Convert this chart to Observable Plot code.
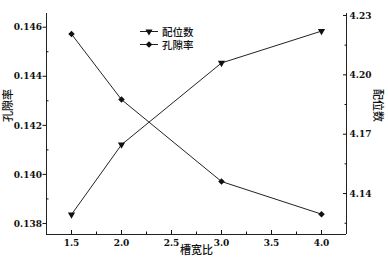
<!DOCTYPE html>
<html><head><meta charset="utf-8">
<script src="https://cdn.jsdelivr.net/npm/d3@7"></script>
<script src="https://cdn.jsdelivr.net/npm/@observablehq/plot@0.6"></script>
<style>
body{margin:0;background:#fff;}
#chart{position:relative;width:388px;height:268px;}
#legend{position:absolute;left:140px;top:24.5px;font-family:"Noto Sans CJK SC";font-size:10.5px;font-weight:500;color:#111;}
#legend .row{display:flex;align-items:center;height:13px;overflow:visible;}
#legend .row span{line-height:11px;height:11px;display:block;}
#legend svg{margin-right:4px;display:block;}
</style></head><body><div id="chart"><div id="legend"></div></div>
<script>
// data
const ratio = [1.5, 2.0, 3.0, 4.0];
const porosity = [0.14572, 0.14305, 0.13971, 0.13838];
const coordination = [4.1294, 4.1647, 4.2060, 4.2221];
// ticks
const xTicks = [1.5, 2.0, 2.5, 3.0, 3.5, 4.0];
const xMinor = [1.75, 2.25, 2.75, 3.25, 3.75];
const leftTicks = [0.138, 0.140, 0.142, 0.144, 0.146];
const leftMinor = [0.139, 0.141, 0.143, 0.145];
const rightTicks = [4.14, 4.17, 4.20, 4.23];
const rightMinor = [4.125, 4.155, 4.185, 4.215];
const xDomain = [1.25, 4.25];
const leftDomain = [0.13755, 0.14656];
const rightDomain = [4.1193, 4.231];
const xLabel = "槽宽比", leftLabel = "孔隙率", rightLabel = "配位数";
const seriesNames = ["配位数", "孔隙率"];

const cjk = "Noto Sans CJK SC";
const num = {fontFamily: "'DejaVu Serif Condensed', 'DejaVu Serif', serif", fontSize: 10, fontWeight: "bold"};
const toLeft = d3.scaleLinear().domain(rightDomain).range(leftDomain);
const data = ratio.map((r, i) => ({r, p: porosity[i], c: toLeft(coordination[i])}));
const blank = () => "";

const chart = Plot.plot({
  width: 388, height: 268,
  marginLeft: 46, marginRight: 42, marginTop: 13, marginBottom: 34,
  x: {domain: xDomain},
  y: {domain: leftDomain},
  style: {color: "#111", background: "#fff"},
  marks: [
    Plot.ruleX([xDomain[0]], {stroke: "#222"}),
    Plot.ruleX([xDomain[1]], {stroke: "#222"}),
    Plot.ruleY([leftDomain[0]], {stroke: "#222"}),
    // bottom axis
    Plot.axisX(xTicks, {anchor: "bottom", tickSize: 0, tickPadding: 4, tickFormat: d3.format(".1f"), label: null, ...num}),
    Plot.axisX(xTicks, {anchor: "bottom", tickSize: 4, dy: -4, tickFormat: blank, label: null}),
    Plot.axisX(xMinor, {anchor: "bottom", tickSize: 2.5, dy: -2.5, tickFormat: blank, label: null}),
    // left axis
    Plot.axisY(leftTicks, {anchor: "left", tickSize: 3.5, tickPadding: 1, tickFormat: d3.format(".3f"), label: null, ...num}),
    Plot.axisY(leftMinor, {anchor: "left", tickSize: 2.5, dx: 2.5, tickFormat: blank, label: null}),
    // right axis
    Plot.axisY(rightTicks.map(toLeft), {anchor: "right", tickSize: 0, tickPadding: 3, tickFormat: d => toLeft.invert(d).toFixed(2), label: null, ...num}),
    Plot.axisY(rightTicks.map(toLeft), {anchor: "right", tickSize: 4, dx: -4, tickFormat: blank, label: null}),
    Plot.axisY(rightMinor.map(toLeft), {anchor: "right", tickSize: 2.5, dx: -2.5, tickFormat: blank, label: null}),
    // axis titles
    Plot.text([leftLabel], {text: d => d, frameAnchor: "left", dx: -38, dy: -2, rotate: -90, fontFamily: cjk, fontSize: 11, fontWeight: 500}),
    Plot.text([rightLabel], {text: d => d, frameAnchor: "right", dx: 31, dy: -2, rotate: 90, fontFamily: cjk, fontSize: 11, fontWeight: 500}),
    Plot.text([xLabel], {text: d => d, frameAnchor: "bottom", dy: 19, fontFamily: cjk, fontSize: 11, fontWeight: 500}),
    // series
    Plot.line(data, {x: "r", y: "p", stroke: "#222", strokeWidth: 1}),
    Plot.line(data, {x: "r", y: "c", stroke: "#222", strokeWidth: 1}),
    Plot.dot(data, {x: "r", y: "p", symbol: "square", rotate: 45, r: 2.6, fill: "#111", stroke: "none"}),
    Plot.dot(data, {x: "r", y: "c", symbol: "triangle", rotate: 180, r: 2.7, fill: "#111", stroke: "none"})
  ]
});
document.getElementById("chart").prepend(chart);

// legend
const legend = d3.select("#legend");
const symbols = [d3.symbolTriangle, d3.symbolSquare];
const rot = [180, 45];
seriesNames.forEach((name, i) => {
  const row = legend.append("div").attr("class", "row");
  const svg = row.append("svg").attr("width", 18).attr("height", 11);
  svg.append("line").attr("x1", 0).attr("x2", 18).attr("y1", 5.5).attr("y2", 5.5).attr("stroke", "#222");
  svg.append("path").attr("d", d3.symbol(symbols[i], Math.PI * 2.65 * 2.65)())
    .attr("transform", `translate(9,5.5) rotate(${rot[i]})`).attr("fill", "#111");
  row.append("span").text(name);
});
</script>
</body></html>
